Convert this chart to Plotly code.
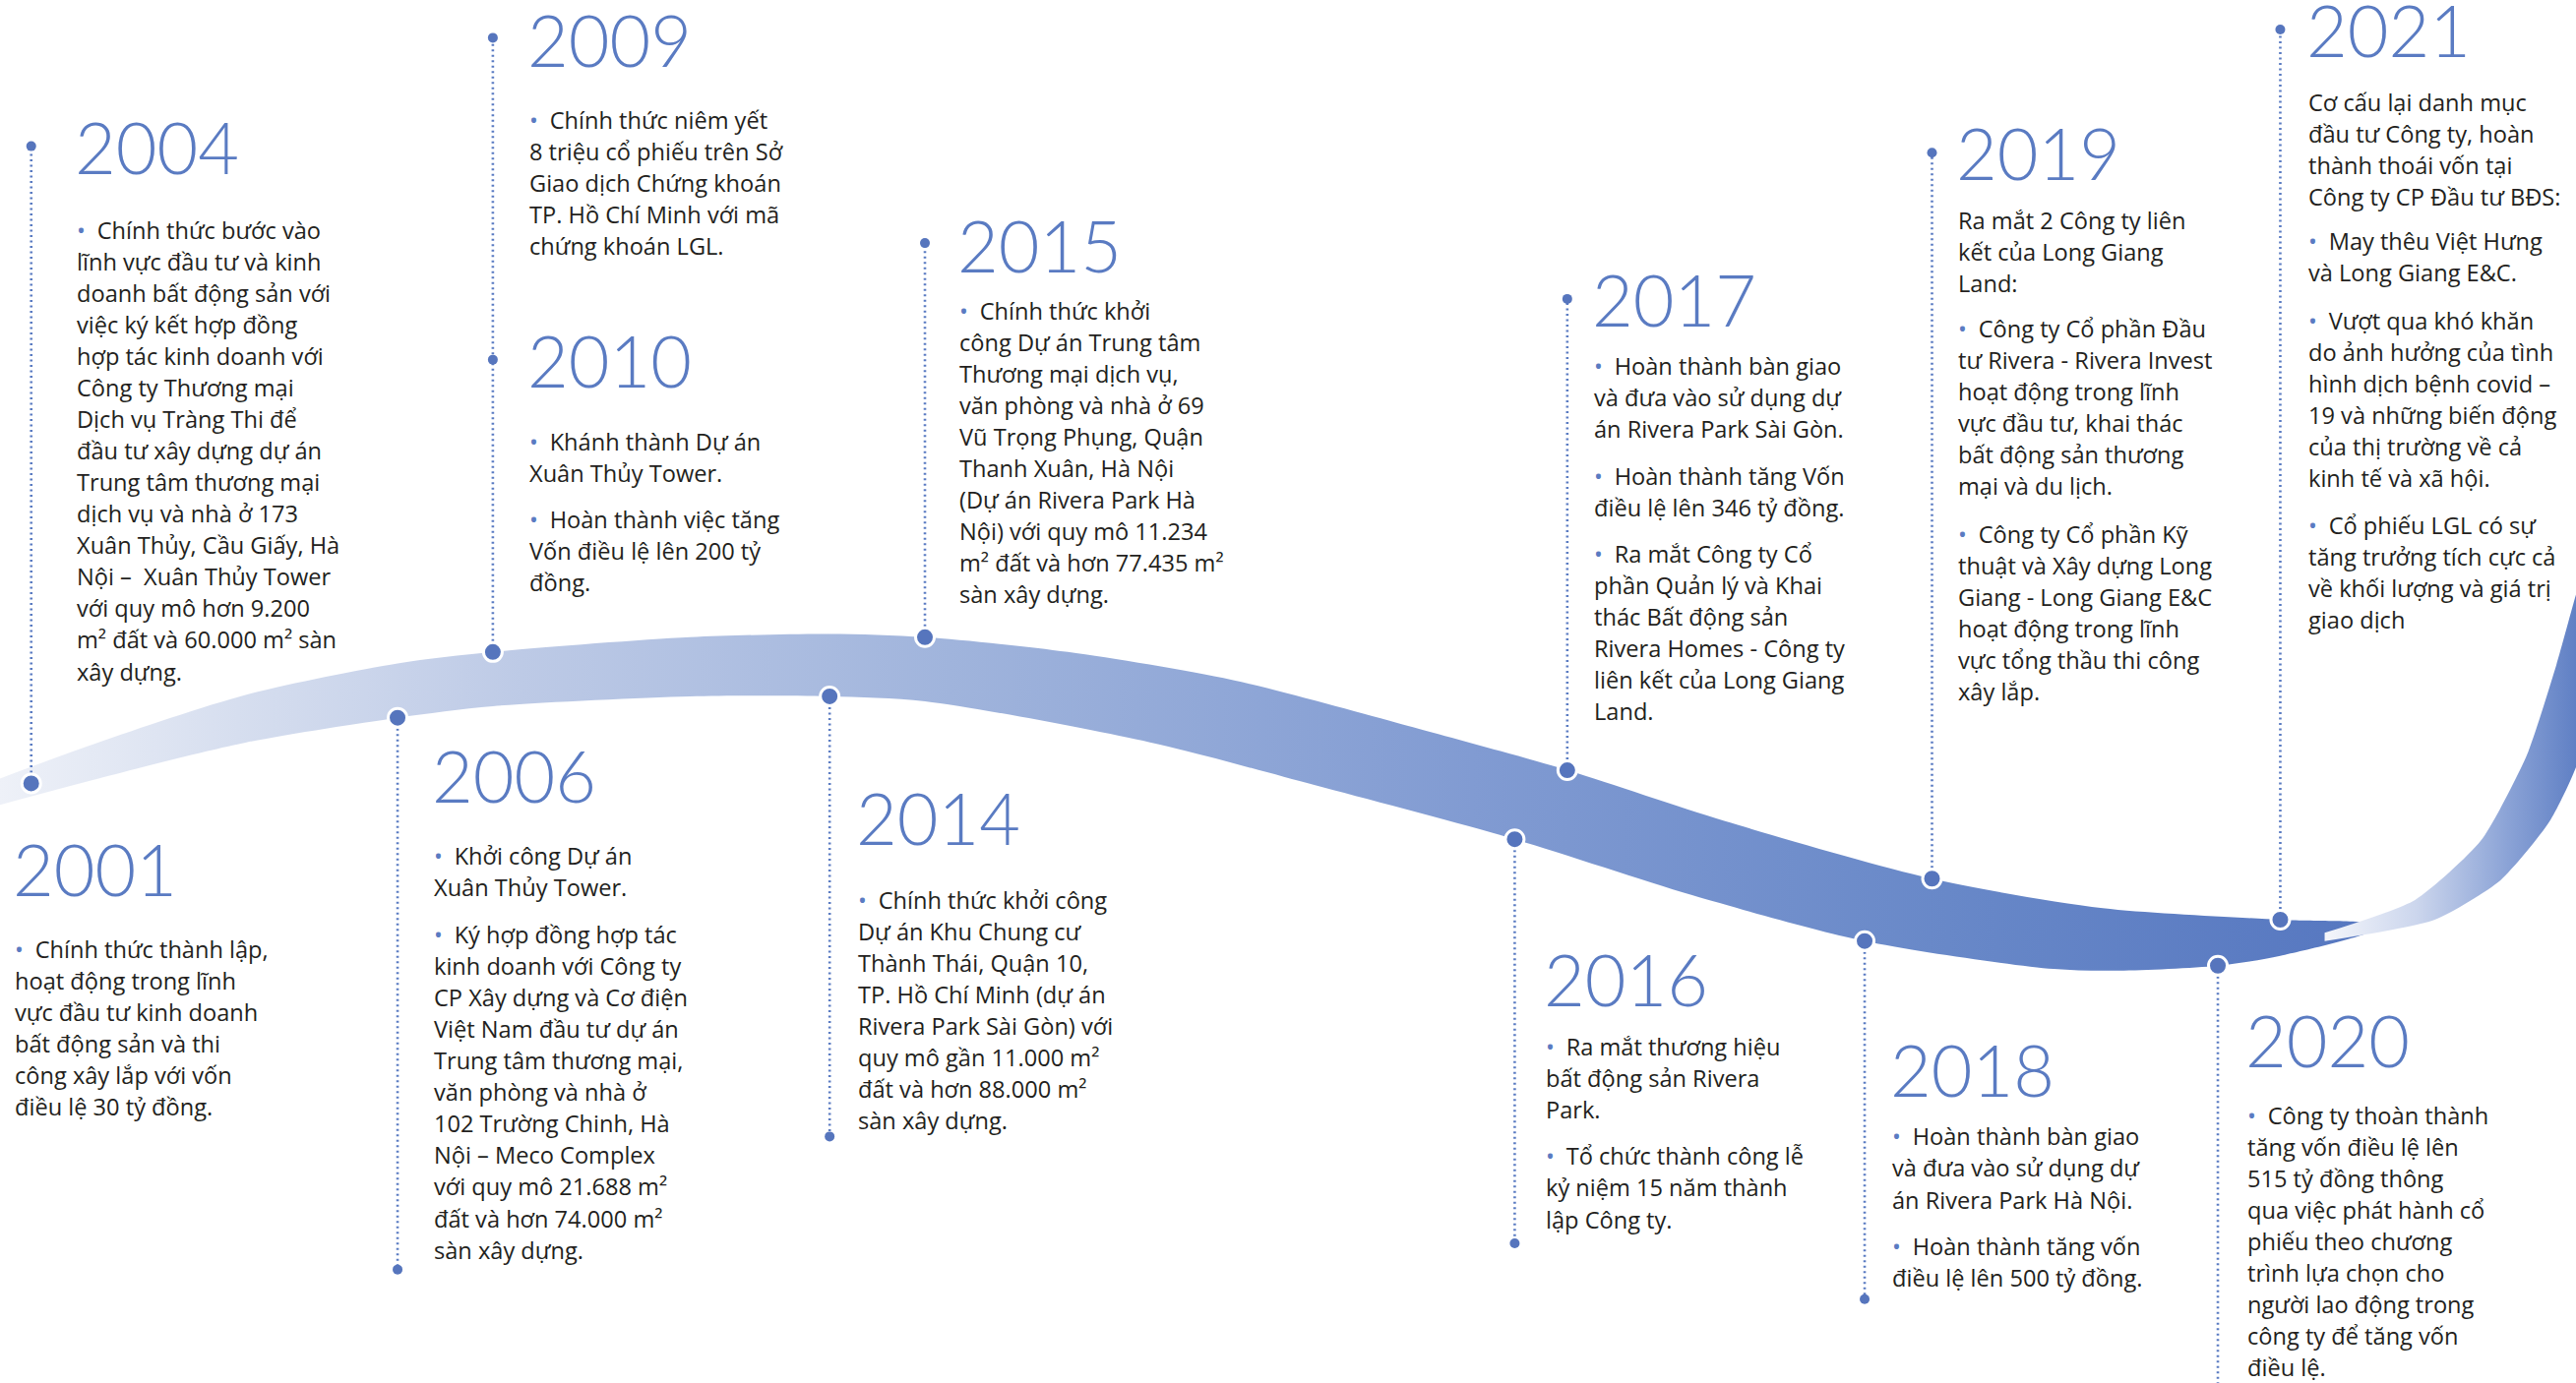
import plotly.graph_objects as go

# reference drawn at 1568x842, page is 2618x1406
S = 2618 / 1568
W, H = 2618, 1406

BLUE = "#5a7bc2"
DOT = "#5675bd"
INK = "#231f20"

# ---------------- data ----------------
YEARS = ["2001", "2004", "2006", "2009", "2010", "2014", "2015",
         "2016", "2017", "2018", "2019", "2020", "2021"]
YEAR_X = [9, 47, 264, 322, 322, 522, 584, 941, 970, 1152, 1192, 1368, 1405]
YEAR_Y = [529, 89, 472, 24, 219, 498, 149, 596, 182, 651, 93, 633, 18]

# milestone nodes on the ribbon and the end of their dotted stems
NODE_X = [19, 242, 300, 505, 563, 922, 954, 1135, 1176, 1350, 1388]
NODE_Y = [477, 437, 397, 424, 388, 511, 469, 573, 535, 588, 560]
STEM_END = [89, 773, 23, 692, 148, 757, 182, 791, 93, 845, 18]
END_DOT = [True, True, True, True, True, True, True, True, True, False, True]
EXTRA_DOT_X = [300]
EXTRA_DOT_Y = [219]

# ribbon outline
TOP_X = [0, 60, 150, 242, 300, 420, 505, 563, 650, 750, 850, 954, 1050, 1176, 1280, 1388, 1445]
TOP_Y = [474, 452, 423, 404, 397, 388, 386, 388, 397, 414, 440, 469, 500, 535, 553, 560, 563]
BOT_X = [1445, 1388, 1350, 1290, 1250, 1135, 1030, 922, 800, 700, 563, 505, 420, 300, 242, 150, 60, 0]
BOT_Y = [566, 582, 588, 591, 590, 573, 545, 511, 478, 452, 427, 424, 424, 430, 437, 452, 474, 490]

TWIST_X = [1415, 1470, 1510, 1538, 1556, 1568, 1572, 1572, 1552, 1522, 1482, 1415]
TWIST_Y = [568, 548, 512, 460, 405, 362, 350, 455, 500, 536, 560, 573]

# text paragraphs: (x, first line y, bullet, lines)
PARAS = [
    (9, 578, True, ["Chính thức thành lập,", "hoạt động trong lĩnh", "vực đầu tư kinh doanh",
                    "bất động sản và thi", "công xây lắp với vốn", "điều lệ 30 tỷ đồng."]),
    (47, 140, True, ["Chính thức bước vào", "lĩnh vực đầu tư và kinh", "doanh bất động sản với",
                     "việc ký kết hợp đồng", "hợp tác kinh doanh với", "Công ty Thương mại",
                     "Dịch vụ Tràng Thi để", "đầu tư xây dựng dự án", "Trung tâm thương mại",
                     "dịch vụ và nhà ở 173", "Xuân Thủy, Cầu Giấy, Hà", "Nội –  Xuân Thủy Tower",
                     "với quy mô hơn 9.200", "m² đất và 60.000 m² sàn", "xây dựng."]),
    (264, 521, True, ["Khởi công Dự án", "Xuân Thủy Tower."]),
    (264, 569, True, ["Ký hợp đồng hợp tác", "kinh doanh với Công ty", "CP Xây dựng và Cơ điện",
                      "Việt Nam đầu tư dự án", "Trung tâm thương mại,", "văn phòng và nhà ở",
                      "102 Trường Chinh, Hà", "Nội – Meco Complex", "với quy mô 21.688 m²",
                      "đất và hơn 74.000 m²", "sàn xây dựng."]),
    (322, 73, True, ["Chính thức niêm yết", "8 triệu cổ phiếu trên Sở", "Giao dịch Chứng khoán",
                     "TP. Hồ Chí Minh với mã", "chứng khoán LGL."]),
    (322, 269, True, ["Khánh thành Dự án", "Xuân Thủy Tower."]),
    (322, 316, True, ["Hoàn thành việc tăng", "Vốn điều lệ lên 200 tỷ", "đồng."]),
    (522, 548, True, ["Chính thức khởi công", "Dự án Khu Chung cư", "Thành Thái, Quận 10,",
                      "TP. Hồ Chí Minh (dự án", "Rivera Park Sài Gòn) với", "quy mô gần 11.000 m²",
                      "đất và hơn 88.000 m²", "sàn xây dựng."]),
    (584, 189, True, ["Chính thức khởi", "công Dự án Trung tâm", "Thương mại dịch vụ,",
                      "văn phòng và nhà ở 69", "Vũ Trọng Phụng, Quận", "Thanh Xuân, Hà Nội",
                      "(Dự án Rivera Park Hà", "Nội) với quy mô 11.234", "m² đất và hơn 77.435 m²",
                      "sàn xây dựng."]),
    (941, 637, True, ["Ra mắt thương hiệu", "bất động sản Rivera", "Park."]),
    (941, 704, True, ["Tổ chức thành công lễ", "kỷ niệm 15 năm thành", "lập Công ty."]),
    (970, 223, True, ["Hoàn thành bàn giao", "và đưa vào sử dụng dự", "án Rivera Park Sài Gòn."]),
    (970, 290, True, ["Hoàn thành tăng Vốn", "điều lệ lên 346 tỷ đồng."]),
    (970, 337, True, ["Ra mắt Công ty Cổ", "phần Quản lý và Khai", "thác Bất động sản",
                      "Rivera Homes - Công ty", "liên kết của Long Giang", "Land."]),
    (1152, 692, True, ["Hoàn thành bàn giao", "và đưa vào sử dụng dự", "án Rivera Park Hà Nội."]),
    (1152, 759, True, ["Hoàn thành tăng vốn", "điều lệ lên 500 tỷ đồng."]),
    (1192, 134, False, ["Ra mắt 2 Công ty liên", "kết của Long Giang", "Land:"]),
    (1192, 200, True, ["Công ty Cổ phần Đầu", "tư Rivera - Rivera Invest", "hoạt động trong lĩnh",
                       "vực đầu tư, khai thác", "bất động sản thương", "mại và du lịch."]),
    (1192, 325, True, ["Công ty Cổ phần Kỹ", "thuật và Xây dựng Long", "Giang - Long Giang E&C",
                       "hoạt động trong lĩnh", "vực tổng thầu thi công", "xây lắp."]),
    (1368, 679, True, ["Công ty thoàn thành", "tăng vốn điều lệ lên", "515 tỷ đồng thông",
                       "qua việc phát hành cổ", "phiếu theo chương", "trình lựa chọn cho",
                       "người lao động trong", "công ty để tăng vốn", "điều lệ."]),
    (1405, 62, False, ["Cơ cấu lại danh mục", "đầu tư Công ty, hoàn", "thành thoái vốn tại",
                       "Công ty CP Đầu tư BĐS:"]),
    (1405, 147, True, ["May thêu Việt Hưng", "và Long Giang E&C."]),
    (1405, 195, True, ["Vượt qua khó khăn", "do ảnh hưởng của tình", "hình dịch bệnh covid –",
                       "19 và những biến động", "của thị trường về cả", "kinh tế và xã hội."]),
    (1405, 320, True, ["Cổ phiếu LGL có sự", "tăng trưởng tích cực cả", "về khối lượng và giá trị",
                       "giao dịch"]),
]

LINE_STEP = 19.2  # in reference (shrunk) px
BODY_SIZE = 23.6
YEAR_SIZE = 72


def sx(v):
    return [None if a is None else a * S for a in v]


fig = go.Figure()

# ribbon body
fig.add_trace(go.Scatter(
    x=sx(TOP_X + BOT_X), y=sx(TOP_Y + BOT_Y),
    mode="lines", fill="toself", line=dict(width=0, shape="spline", smoothing=0.8),
    fillgradient=dict(type="horizontal",
                      colorscale=[[0, "#eef1f8"], [0.1, "#d6deef"], [0.22, "#bdcae6"],
                                  [0.4, "#a0b4dc"], [0.62, "#819bd2"], [0.82, "#6888c8"],
                                  [1, "#5677c0"]]),
    hoverinfo="skip", showlegend=False))

# twisted tail
fig.add_trace(go.Scatter(
    x=sx(TWIST_X), y=sx(TWIST_Y),
    mode="lines", fill="toself", line=dict(width=0, shape="spline", smoothing=0.6),
    fillgradient=dict(type="horizontal",
                      colorscale=[[0, "#f4f6fb"], [0.35, "#ccd6ed"], [0.7, "#8ba3d6"],
                                  [1, "#5a7bc2"]]),
    hoverinfo="skip", showlegend=False))

# dotted stems
stem_x, stem_y = [], []
for nx, ny, ey in zip(NODE_X, NODE_Y, STEM_END):
    stem_x += [nx, nx, None]
    stem_y += [ny, ey, None]
fig.add_trace(go.Scatter(x=sx(stem_x), y=sx(stem_y), mode="lines",
                         line=dict(color=BLUE, width=2.6, dash="2px,3.5px"),
                         hoverinfo="skip", showlegend=False))

# small end dots
ex = [x for x, e in zip(NODE_X, END_DOT) if e] + EXTRA_DOT_X
ey = [y for y, e in zip(STEM_END, END_DOT) if e] + EXTRA_DOT_Y
fig.add_trace(go.Scatter(x=sx(ex), y=sx(ey), mode="markers",
                         marker=dict(size=10, color=DOT, line=dict(width=0)),
                         hoverinfo="skip", showlegend=False))

# ribbon nodes
fig.add_trace(go.Scatter(x=sx(NODE_X), y=sx(NODE_Y), mode="markers",
                         marker=dict(size=19, color=DOT, line=dict(width=3, color="white")),
                         hoverinfo="skip", showlegend=False))

annotations = []
for yr, x, y in zip(YEARS, YEAR_X, YEAR_Y):
    annotations.append(dict(
        x=x * S - 4, y=y * S, text=yr, showarrow=False, xanchor="left", yanchor="middle",
        font=dict(family="Lato, Open Sans, sans-serif", size=YEAR_SIZE, color=BLUE, weight=300)))

BULLET = '<span style="color:%s">•</span>\u2002' % BLUE
for x, y, bullet, lines in PARAS:
    for i, line in enumerate(lines):
        txt = (BULLET if (bullet and i == 0) else "") + line
        annotations.append(dict(
            x=x * S - 2, y=(y + i * LINE_STEP) * S, text=txt, showarrow=False,
            xanchor="left", yanchor="middle", align="left",
            font=dict(family="Open Sans, Noto Sans, sans-serif", size=BODY_SIZE, color=INK)))

fig.update_layout(
    width=W, height=H, margin=dict(l=0, r=0, t=0, b=0),
    paper_bgcolor="white", plot_bgcolor="white", showlegend=False,
    xaxis=dict(range=[0, W], visible=False, fixedrange=True),
    yaxis=dict(range=[H, 0], visible=False, fixedrange=True),
    annotations=annotations,
)

fig.write_html("out.html", config={"displayModeBar": False, "staticPlot": True},
               post_script="document.body.style.margin='0';document.body.style.overflow='hidden';")
